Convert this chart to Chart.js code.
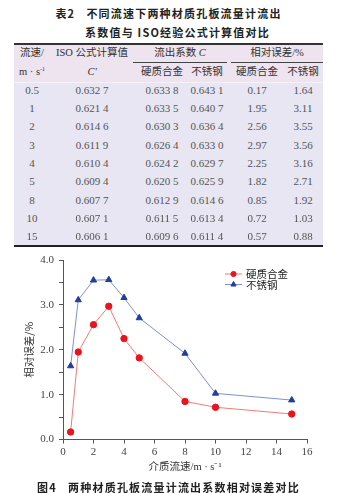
<!DOCTYPE html>
<html><head><meta charset="utf-8">
<script src="https://cdn.jsdelivr.net/npm/chart.js@4/dist/chart.umd.min.js"></script>
<style>
html,body{margin:0;padding:0;background:#fff;width:356px;height:493px;overflow:hidden;}
#wrap{position:relative;width:356px;height:493px;}
.t{position:absolute;white-space:nowrap;transform:translate(-50%,-50%);line-height:1;}
.title{font-family:"Noto Sans CJK SC",sans-serif;font-weight:bold;font-size:11px;color:#222;letter-spacing:1.2px;}
.hd{font-family:"Liberation Serif","Noto Sans CJK SC",serif;font-size:10.5px;color:#333;}
.num{font-family:"Liberation Serif",serif;font-size:11px;color:#555;}
.bg{position:absolute;}
#c{position:absolute;left:0;top:245px;}
</style></head>
<body><div id="wrap"><canvas id="c" width="356" height="235"></canvas></div>
<script>
// ---- data ----
const speeds = [0.5, 1, 2, 3, 4, 5, 8, 10, 15];
const speedLabels = ["0.5", "1", "2", "3", "4", "5", "8", "10", "15"];
const isoValues = ["0.632 7", "0.621 4", "0.614 6", "0.611 9", "0.610 4", "0.609 4", "0.607 7", "0.607 1", "0.606 1"];
const coefHard = ["0.633 8", "0.633 5", "0.630 3", "0.626 4", "0.624 2", "0.620 5", "0.612 9", "0.611 5", "0.609 6"];
const coefSteel = ["0.643 1", "0.640 7", "0.636 4", "0.633 0", "0.629 7", "0.625 9", "0.614 6", "0.613 4", "0.611 4"];
const errHard = [0.17, 1.95, 2.56, 2.97, 2.25, 1.82, 0.85, 0.72, 0.57];
const errSteel = [1.64, 3.11, 3.55, 3.56, 3.16, 2.71, 1.92, 1.03, 0.88];
const seriesNames = ["硬质合金", "不锈钢"];
const xTickStep = 2, xMax = 16, yMax = 4, yTickStep = 0.5;

// ---- table (HTML) ----
const W = document.getElementById('wrap');
function txt(s, x, y, cls, extra){
  const d = document.createElement('div');
  d.className = 't ' + cls; d.innerHTML = s;
  d.style.left = x + 'px'; d.style.top = y + 'px';
  if (extra) Object.assign(d.style, extra);
  W.appendChild(d); return d;
}
function rect(x, y, w, h, c){
  const d = document.createElement('div'); d.className = 'bg';
  Object.assign(d.style, {left:x+'px', top:y+'px', width:w+'px', height:h+'px', background:c});
  W.appendChild(d);
}
txt('表2&nbsp;&nbsp;&nbsp;不同流速下两种材质孔板流量计流出', 168.5, 12.5, 'title');
txt('系数值与 ISO经验公式计算值对比', 177.5, 32, 'title');
rect(14, 44, 309, 38, '#ede4ef');
rect(14, 82, 309, 163, '#e7e6f2');
rect(14, 82, 309, 1, '#f4f2f8');
rect(14, 43, 309, 2, '#333');
rect(14, 245, 309, 1.5, '#222');
rect(133, 62, 94, 1, '#444');
rect(231, 62, 92, 1, '#444');
txt('流速/', 32, 53, 'hd');
txt('m · s<sup style="font-size:6px;vertical-align:4px">-1</sup>', 32, 72, 'hd');
txt('ISO 公式计算值', 92, 53, 'hd');
txt('<i>C\'</i>', 92, 72, 'hd');
txt('流出系数 <i>C</i>', 180, 53, 'hd');
txt('相对误差/%', 277, 53, 'hd');
txt(seriesNames[0], 162, 72, 'hd');
txt(seriesNames[1], 207, 72, 'hd');
txt(seriesNames[0], 257, 72, 'hd');
txt(seriesNames[1], 303, 72, 'hd');
speeds.forEach((s, i) => {
  const y = 89.5 + i * 18.35;
  txt(speedLabels[i], 32, y, 'num');
  txt(isoValues[i], 92, y, 'num');
  txt(coefHard[i], 162, y, 'num');
  txt(coefSteel[i], 207, y, 'num');
  txt(errHard[i].toFixed(2), 257, y, 'num');
  txt(errSteel[i].toFixed(2), 303, y, 'num');
});
txt('图4&nbsp;&nbsp;&nbsp;两种材质孔板流量计流出系数相对误差对比', 168.5, 487, 'title');

// ---- chart ----
const legendPlugin = {
  id: 'customLegend',
  afterDraw(chart){
    const {ctx, chartArea} = chart;
    const x0 = chartArea.left + 162, y0 = chartArea.top + 14;
    chart.data.datasets.forEach((ds, i) => {
      const y = y0 + i * 10.5;
      ctx.save();
      ctx.strokeStyle = ds.borderColor; ctx.lineWidth = 1;
      ctx.beginPath(); ctx.moveTo(x0, y); ctx.lineTo(x0 + 17, y); ctx.stroke();
      ctx.fillStyle = ds.pointBackgroundColor; ctx.strokeStyle = ds.pointBorderColor;
      Chart.helpers.drawPoint(ctx, {pointStyle: ds.pointStyle, radius: ds.pointRadius - 0.6, borderWidth: 1, rotation: 0}, x0 + 8.5, y);
      ctx.fillStyle = '#222';
      ctx.font = '10.5px "Noto Sans CJK SC"';
      ctx.textBaseline = 'middle'; ctx.textAlign = 'left';
      ctx.fillText(ds.label, x0 + 21, y + 0.5);
      ctx.restore();
    });
  }
};
const tickFont = {family: '"Liberation Serif", serif', size: 11};
new Chart(document.getElementById('c'), {
  type: 'line',
  data: {
    datasets: [
      {label: seriesNames[0], data: speeds.map((x, i) => ({x, y: errHard[i]})),
       borderColor: '#f27a7a', borderWidth: 1, pointStyle: 'circle', pointRadius: 3.2,
       pointBackgroundColor: '#e8141e', pointBorderColor: '#e8141e', tension: 0},
      {label: seriesNames[1], data: speeds.map((x, i) => ({x, y: errSteel[i]})),
       borderColor: '#7f8fd6', borderWidth: 1, pointStyle: 'triangle', pointRadius: 3.6,
       pointBackgroundColor: '#1f3f9c', pointBorderColor: '#1f3f9c', tension: 0}
    ]
  },
  options: {
    responsive: false, animation: false, devicePixelRatio: 1,
    layout: {padding: {top: 15, right: 49, bottom: 6.6, left: 23}},
    plugins: {legend: {display: false}, tooltip: {enabled: false}},
    scales: {
      x: {type: 'linear', min: 0, max: xMax,
          grid: {drawOnChartArea: false, drawTicks: true, tickLength: 4, color: '#555'},
          border: {display: true, color: '#555', width: 1},
          ticks: {stepSize: xTickStep, padding: 2, color: '#444', font: tickFont, maxRotation: 0},
          title: {display: true, text: '介质流速/m · s⁻¹', color: '#333',
                  font: {family: '"Liberation Serif","Noto Sans CJK SC", serif', size: 10.5}, padding: {top: 0, bottom: 0}}},
      y: {min: 0, max: yMax,
          afterFit(s){ s.width = 40; },
          grid: {drawOnChartArea: false, drawTicks: true, tickLength: 4, color: '#555'},
          border: {display: true, color: '#555', width: 1},
          ticks: {stepSize: yTickStep, padding: 5, color: '#444', font: tickFont,
                  callback: v => (Math.abs(v - Math.round(v)) < 1e-9 ? v.toFixed(1) : '')},
          title: {display: true, text: '相对误差/%', color: '#333',
                  font: {family: '"Noto Sans CJK SC", sans-serif', size: 10.5}, padding: {top: 0, bottom: 0}}}
    }
  },
  plugins: [legendPlugin]
});
</script></body></html>
